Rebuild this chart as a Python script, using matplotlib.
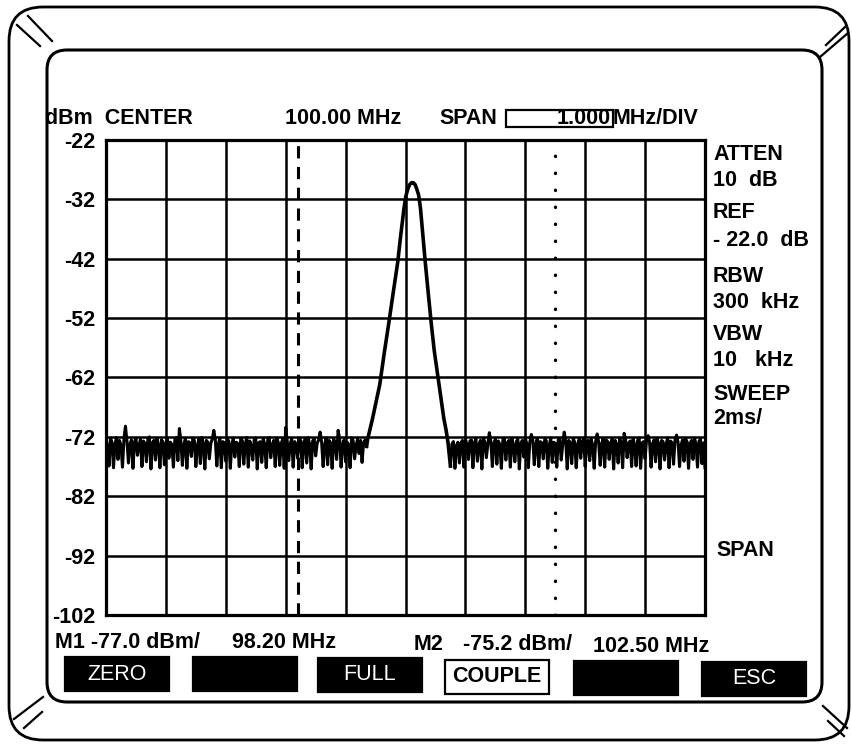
import numpy as np
import matplotlib
matplotlib.use("Agg")
import matplotlib.pyplot as plt
from matplotlib.patches import FancyBboxPatch, Rectangle

# ---------------------------------------------------------------------------
# Data
# ---------------------------------------------------------------------------
CENTER_MHZ = 100.0
MHZ_PER_DIV = 1.0
REF_DBM = -22
DB_PER_DIV = 10

M1_MHZ = 98.20
M2_MHZ = 102.50

# noise floor left of the carrier (95.000 .. 99.350 MHz, 25 kHz apart)
noise_left = [
    -72.4, -73.6, -76.9, -72.2, -72.9, -77.2, -73.3, -72.1, -75.8, -72.6,
    -73.4, -77.1, -72.3, -70.2, -72.8, -76.4, -73.2, -72.5, -77.3, -72.9,
    -72.2, -75.1, -73.5, -72.4, -77.0, -72.7, -73.1, -76.2, -72.3, -72.0,
    -77.4, -73.0, -72.6, -75.9, -72.3, -73.4, -77.2, -72.5, -72.8, -76.7,
    -73.2, -72.2, -75.6, -72.9, -73.3, -77.1, -72.4, -72.1, -76.0, -70.6,
    -72.7, -76.8, -73.4, -72.3, -77.3, -72.8, -73.0, -75.3, -72.2, -72.6,
    -77.0, -73.5, -72.4, -76.5, -72.1, -73.2, -77.4, -72.6, -72.9, -75.7,
    -73.1, -72.3, -70.9, -72.5, -76.9, -73.3, -72.2, -77.2, -72.8, -73.0,
    -76.1, -72.4, -72.7, -77.3, -73.4, -72.2, -75.4, -72.9, -73.1, -77.0,
    -72.3, -72.6, -76.6, -73.2, -72.1, -77.1, -72.7, -73.5, -75.9, -72.4,
    -72.2, -77.4, -73.0, -72.8, -76.3, -72.3, -73.3, -77.2, -72.5, -72.1,
    -75.5, -73.4, -72.6, -77.0, -72.2, -72.9, -76.8, -73.1, -72.4, -77.3,
    -70.4, -72.7, -76.0, -73.2, -72.3, -77.1, -72.8, -73.4, -75.6, -72.2,
    -72.6, -77.2, -73.0, -72.4, -76.4, -72.1, -73.3, -77.4, -72.7, -72.3,
    -75.2, -73.1, -72.5, -71.2, -72.9, -77.0, -73.4, -72.2, -76.7, -72.6,
    -73.0, -77.3, -72.4, -72.8, -75.8, -70.9, -72.3, -77.1, -73.2, -72.5,
    -76.2, -72.9, -73.3, -77.2, -72.2, -72.6, -75.7, -73.4, -72.4, -74.8,
    -72.6, -76.3, -73.0, -72.5, -73.6,
]

# carrier
peak_mhz = [99.37, 99.45, 99.57, 99.645, 99.72, 99.795, 99.87, 99.915,
            99.945, 99.975, 100.005, 100.04, 100.07, 100.10, 100.13, 100.16,
            100.19, 100.22, 100.25, 100.28, 100.33, 100.38, 100.43, 100.48,
            100.56, 100.64, 100.68, 100.71]
peak_dbm = [-72.3, -68.9, -63.2, -57.9, -52.9, -47.7, -42.6, -38.5,
            -36.0, -33.5, -31.5, -30.2, -29.5, -29.2, -29.2, -29.5,
            -30.3, -31.3, -33.5, -36.9, -42.6, -47.8, -52.9, -57.5,
            -63.2, -68.9, -71.0, -73.0]

# noise floor right of the carrier (100.750 .. 105.000 MHz, 25 kHz apart)
noise_right = [
    -76.9, -73.2, -72.8, -77.3, -73.5, -72.9, -76.4, -73.1, -72.6, -77.1,
    -72.4, -73.3, -75.8, -72.7, -72.5, -77.2, -73.0, -72.3, -76.1, -73.4,
    -72.6, -77.4, -72.2, -72.9, -75.5, -73.2, -71.3, -72.8, -77.0, -73.1,
    -72.4, -76.6, -72.7, -73.3, -77.3, -72.5, -72.2, -75.9, -73.0, -72.6,
    -77.1, -72.3, -73.4, -76.2, -72.8, -72.4, -77.4, -73.1, -72.6, -75.4,
    -72.2, -73.2, -77.2, -72.9, -71.6, -72.5, -76.7, -73.3, -72.3, -77.0,
    -72.8, -73.0, -75.7, -72.4, -72.6, -77.3, -73.4, -72.2, -76.3, -72.9,
    -73.1, -77.1, -72.5, -72.3, -75.9, -73.2, -71.2, -72.7, -77.4, -72.6,
    -73.0, -76.5, -72.3, -72.9, -77.2, -73.3, -72.4, -75.6, -72.8, -72.2,
    -77.0, -73.1, -72.6, -76.0, -72.4, -73.4, -77.3, -72.7, -71.5, -72.9,
    -76.8, -73.2, -72.3, -77.1, -72.5, -72.8, -75.8, -73.0, -72.4, -77.4,
    -72.6, -73.3, -76.4, -72.2, -72.9, -77.2, -71.4, -72.5, -75.5, -73.1,
    -72.7, -77.0, -72.3, -73.4, -76.9, -72.6, -72.2, -77.3, -73.0, -72.8,
    -75.7, -72.4, -71.8, -72.9, -77.1, -73.2, -72.5, -76.2, -72.3, -73.1,
    -77.4, -72.6, -72.8, -75.9, -73.3, -72.2, -77.2, -72.7, -73.0, -76.6,
    -72.4, -71.7, -72.9, -77.0, -73.4, -72.5, -76.1, -72.3, -72.8, -77.3,
    -73.1, -72.6, -75.8, -72.2, -73.3, -77.1, -72.7, -72.4, -76.5, -73.0,
    -77.2,
]

side_labels = ["ATTEN", "10  dB", "REF", "- 22.0  dB", "RBW", "300  kHz",
               "VBW", "10   kHz", "SWEEP", "2ms/", "SPAN"]
buttons = ["ZERO", "", "FULL", "COUPLE", "", "ESC"]

# ---------------------------------------------------------------------------
W, H = 853, 745
BOLD = dict(family=["Liberation Sans", "DejaVu Sans"], fontweight="bold")

fig = plt.figure(figsize=(W / 100, H / 100), dpi=100)
fig.patch.set_facecolor("white")

# background layer in pixel coordinates (bezel, texts, soft keys)
bg = fig.add_axes([0, 0, 1, 1])
bg.set_xlim(0, W)
bg.set_ylim(H, 0)
bg.axis("off")

# outer bezel and inner screen
bg.add_patch(FancyBboxPatch((9, 7), 840, 733, boxstyle="round,pad=0,rounding_size=34",
                            fill=False, lw=2.0, ec="black"))
bg.add_patch(FancyBboxPatch((47, 50), 775, 652, boxstyle="round,pad=0,rounding_size=20",
                            fill=False, lw=2.2, ec="black"))

# corner hatch marks
for (x0, y0, x1, y1) in [(17, 25, 40, 46), (28, 16, 52, 41),
                         (826, 45, 845, 27), (820, 57, 848, 33),
                         (14, 719, 43, 697), (24, 728, 42, 712),
                         (823, 706, 847, 728), (828, 721, 844, 736)]:
    bg.plot([x0, x1], [y0, y1], color="black", lw=1.6)

# header line
bg.text(45, 118, "dBm  CENTER", ha="left", va="center", fontsize=15.5, **BOLD)
bg.text(285, 118, f"{CENTER_MHZ:.2f} MHz", ha="left", va="center", fontsize=15.5, **BOLD)
bg.text(439, 118, "SPAN", ha="left", va="center", fontsize=15.5, **BOLD)
bg.add_patch(Rectangle((506, 110), 107, 17, fill=False, lw=1.6, ec="black"))
bg.text(611, 118, f"{MHZ_PER_DIV:.3f}", ha="right", va="center", fontsize=15.5, **BOLD)
bg.text(613, 118, "MHz/DIV", ha="left", va="center", fontsize=15.5, **BOLD)

# right-hand parameter column
side_y = [155, 180, 212, 240, 277, 302, 334, 361, 395, 418, 550]
for s, y in zip(side_labels, side_y):
    x = 716 if s == "SPAN" else 713
    bg.text(x, y, s, ha="left", va="center", fontsize=15.5, **BOLD)

# marker readouts
bg.text(55, 643, f"M1 {-77.0:.1f} dBm/", ha="left", va="center", fontsize=15.5, **BOLD)
bg.text(232, 643, f"{M1_MHZ:.2f} MHz", ha="left", va="center", fontsize=15.5, **BOLD)
bg.text(414, 645, "M2", ha="left", va="center", fontsize=15.5, **BOLD)
bg.text(463, 645, f"{-75.2:.1f} dBm/", ha="left", va="center", fontsize=15.5, **BOLD)
bg.text(593, 646, f"{M2_MHZ:.2f} MHz", ha="left", va="center", fontsize=15.5, **BOLD)

# soft keys
key_x = [65, 193, 318, 445, 574, 702]
key_y = [657, 657, 658, 660, 661, 662]
for label, x, y in zip(buttons, key_x, key_y):
    inverted = label != "COUPLE"
    bg.add_patch(Rectangle((x, y), 104, 34, lw=1.6, ec="black",
                           fc="black" if inverted else "white"))
    if label:
        bg.text(x + 52, y + 17, label, ha="center", va="center", fontsize=15.5,
                color="white" if inverted else "black",
                family=["Liberation Sans", "DejaVu Sans"],
                fontweight="normal" if inverted else "bold")

# ---------------------------------------------------------------------------
# graticule + trace
# ---------------------------------------------------------------------------
L, R, T, B = 106, 705, 140, 615
ax = fig.add_axes([L / W, 1 - B / H, (R - L) / W, (B - T) / H])
ax.set_facecolor("white")

f_lo = CENTER_MHZ - 5 * MHZ_PER_DIV
f_hi = CENTER_MHZ + 5 * MHZ_PER_DIV
db_lo = REF_DBM - 8 * DB_PER_DIV
ax.set_xlim(f_lo, f_hi)
ax.set_ylim(db_lo, REF_DBM)

ax.set_xticks(np.arange(f_lo, f_hi + 0.01, MHZ_PER_DIV))
ax.set_yticks(np.arange(db_lo, REF_DBM + 1, DB_PER_DIV))
ax.set_xticklabels([])
ax.set_yticklabels([str(v) for v in range(db_lo, REF_DBM + 1, DB_PER_DIV)],
                   fontsize=15.5, fontweight="bold", family=["Liberation Sans", "DejaVu Sans"])
ax.tick_params(axis="both", length=0)
ax.tick_params(axis="y", pad=8)
ax.grid(True, color="black", lw=1.8)
for sp in ax.spines.values():
    sp.set_linewidth(2.3)

# markers
ax.axvline(M1_MHZ, color="black", lw=2.2, linestyle=(0, (4, 2.8)))
ax.axvline(M2_MHZ, color="black", lw=2.4, linestyle=(0, (0.1, 5.0)),
           dash_capstyle="round")

left_f = np.linspace(95.0, 99.35, len(noise_left))
right_f = np.linspace(100.75, 105.0, len(noise_right))
ax.plot(left_f, noise_left, color="black", lw=2.2, zorder=3)
ax.plot(right_f, noise_right, color="black", lw=2.2, zorder=3)
ax.plot([left_f[-1]] + peak_mhz + [right_f[0]],
        [noise_left[-1]] + peak_dbm + [noise_right[0]],
        color="black", lw=2.6, zorder=3, solid_joinstyle="round")

fig.savefig("out.png", dpi=100)
